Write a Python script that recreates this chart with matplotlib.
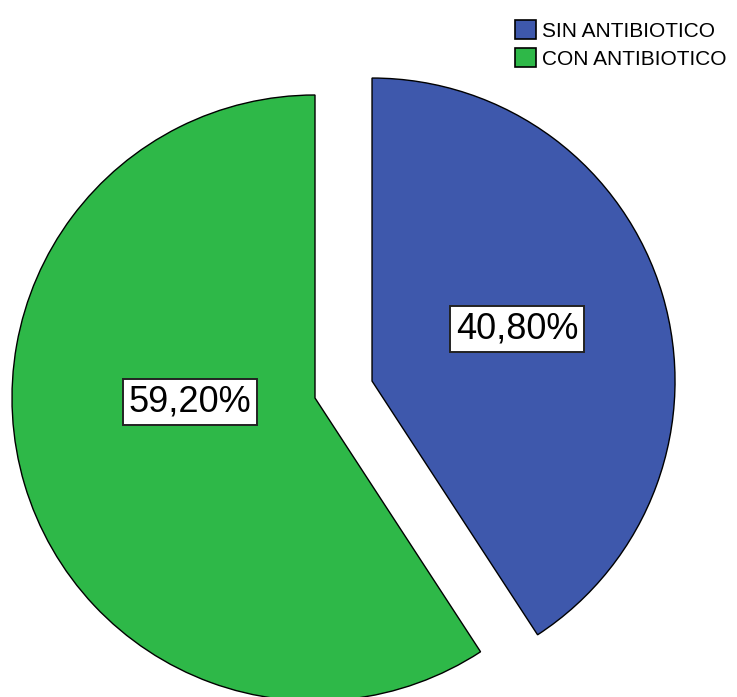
import matplotlib
matplotlib.use("Agg")
import matplotlib.pyplot as plt
from matplotlib.patches import Patch

categories = ["SIN ANTIBIOTICO", "CON ANTIBIOTICO"]
percentages = [40.80, 59.20]
colors = ["#3E58AC", "#2EB848"]

W, H = 737, 697
fig = plt.figure(figsize=(W / 100, H / 100), dpi=100)
ax = fig.add_axes([0, 0, 1, 1])

radius = 303
center = (315, H - 398)

wedges, texts, autotexts = ax.pie(
    percentages,
    colors=colors,
    startangle=90,
    counterclock=False,
    explode=[59.5, 0],          # offset in data units (pixels here)
    radius=radius,
    center=center,
    frame=True,
    autopct=lambda p: f"{p:.2f}%".replace(".", ","),
    pctdistance=0.5,
    wedgeprops=dict(edgecolor="black", linewidth=1.0),
    textprops=dict(fontsize=26, family="Liberation Sans", color="black"),
)
ax.set_xlim(0, W)
ax.set_ylim(0, H)
ax.set_aspect("equal")
ax.axis("off")

# label boxes placed inside each slice
label_pos = [(517, H - 329), (190, H - 402)]
for t, pos in zip(autotexts, label_pos):
    t.set_position(pos)
    t.set_ha("center")
    t.set_va("center")
    t.set_bbox(dict(boxstyle="square,pad=0.15", facecolor="white",
                    edgecolor="#222222", linewidth=1.4))

handles = [Patch(facecolor=c, edgecolor="black", linewidth=1.2) for c in colors]
fig.legend(
    handles, categories,
    loc="upper left", bbox_to_anchor=(515 / W, 1 - 20 / H),
    frameon=False,
    prop=dict(family="Liberation Sans", size=15),
    handlelength=1.0, handleheight=1.05, handletextpad=0.3,
    labelspacing=0.35, borderpad=0.0, borderaxespad=0,
)

fig.savefig("out.png", dpi=100)
